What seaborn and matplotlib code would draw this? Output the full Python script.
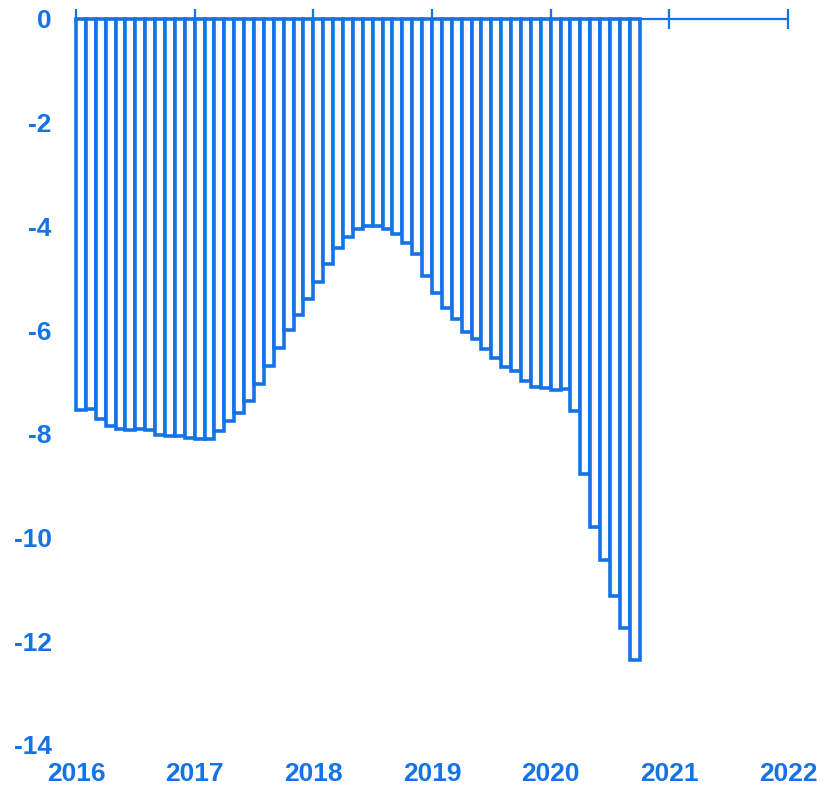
import numpy as np
import pandas as pd
import matplotlib
matplotlib.use('Agg')
import matplotlib.pyplot as plt
import seaborn as sns

# Monthly values, Jan 2016 - Sep 2020
values_2016 = [-7.54, -7.52, -7.71, -7.85, -7.91, -7.93, -7.91, -7.93, -8.02, -8.04, -8.04, -8.08]
values_2017 = [-8.10, -8.10, -7.94, -7.76, -7.60, -7.37, -7.03, -6.69, -6.34, -6.00, -5.71, -5.40]
values_2018 = [-5.08, -4.73, -4.42, -4.21, -4.05, -3.99, -3.99, -4.04, -4.15, -4.31, -4.54, -4.95]
values_2019 = [-5.29, -5.58, -5.78, -6.03, -6.17, -6.37, -6.53, -6.72, -6.79, -6.98, -7.09, -7.11]
values_2020 = [-7.16, -7.14, -7.56, -8.78, -9.79, -10.43, -11.12, -11.75, -12.36]

year_ticks = [2016, 2017, 2018, 2019, 2020, 2021, 2022]
y_ticks = [0, -2, -4, -6, -8, -10, -12, -14]

BLUE = '#1473e6'


def main():
    values = values_2016 + values_2017 + values_2018 + values_2019 + values_2020
    months = pd.date_range('2016-01-01', periods=len(values), freq='MS')
    # bar centred in the middle of its month, in decimal years
    pos = months.year + (months.month - 0.5) / 12
    df = pd.DataFrame({'pos': np.round(pos, 5), 'value': values})

    sns.set_style('white')
    plt.rcParams['font.family'] = ['Liberation Sans', 'DejaVu Sans']

    fig = plt.figure(figsize=(8.25, 7.91), dpi=100)
    ax = fig.add_axes([76 / 825, 1 - 745 / 791, (788 - 76) / 825, (745 - 19) / 791])

    sns.barplot(data=df, x='pos', y='value', native_scale=True, errorbar=None,
                width=1.0, color='white', edgecolor=BLUE, linewidth=2.6, ax=ax)
    for p in ax.patches:
        p.set_clip_on(False)

    ax.set_xlim(2016, 2022)
    ax.set_ylim(-14, 0)
    ax.set_xticks(year_ticks)
    ax.set_xticklabels([str(y) for y in year_ticks])
    ax.set_yticks(y_ticks)
    ax.set_yticklabels([str(t) for t in y_ticks])
    ax.set_xlabel('')
    ax.set_ylabel('')

    for side in ['left', 'right', 'bottom']:
        ax.spines[side].set_visible(False)
    ax.spines['top'].set_color(BLUE)
    ax.spines['top'].set_linewidth(1.6)

    ax.tick_params(axis='x', top=True, bottom=False, labeltop=False, labelbottom=True,
                   direction='inout', length=14, width=1.6, color=BLUE, pad=5,
                   labelsize=19, labelcolor=BLUE)
    ax.tick_params(axis='y', left=False, right=False, pad=14,
                   labelsize=19, labelcolor=BLUE)
    for lab in ax.get_xticklabels() + ax.get_yticklabels():
        lab.set_fontweight('bold')

    fig.savefig('out.png', dpi=100, facecolor='white')


if __name__ == '__main__':
    main()
